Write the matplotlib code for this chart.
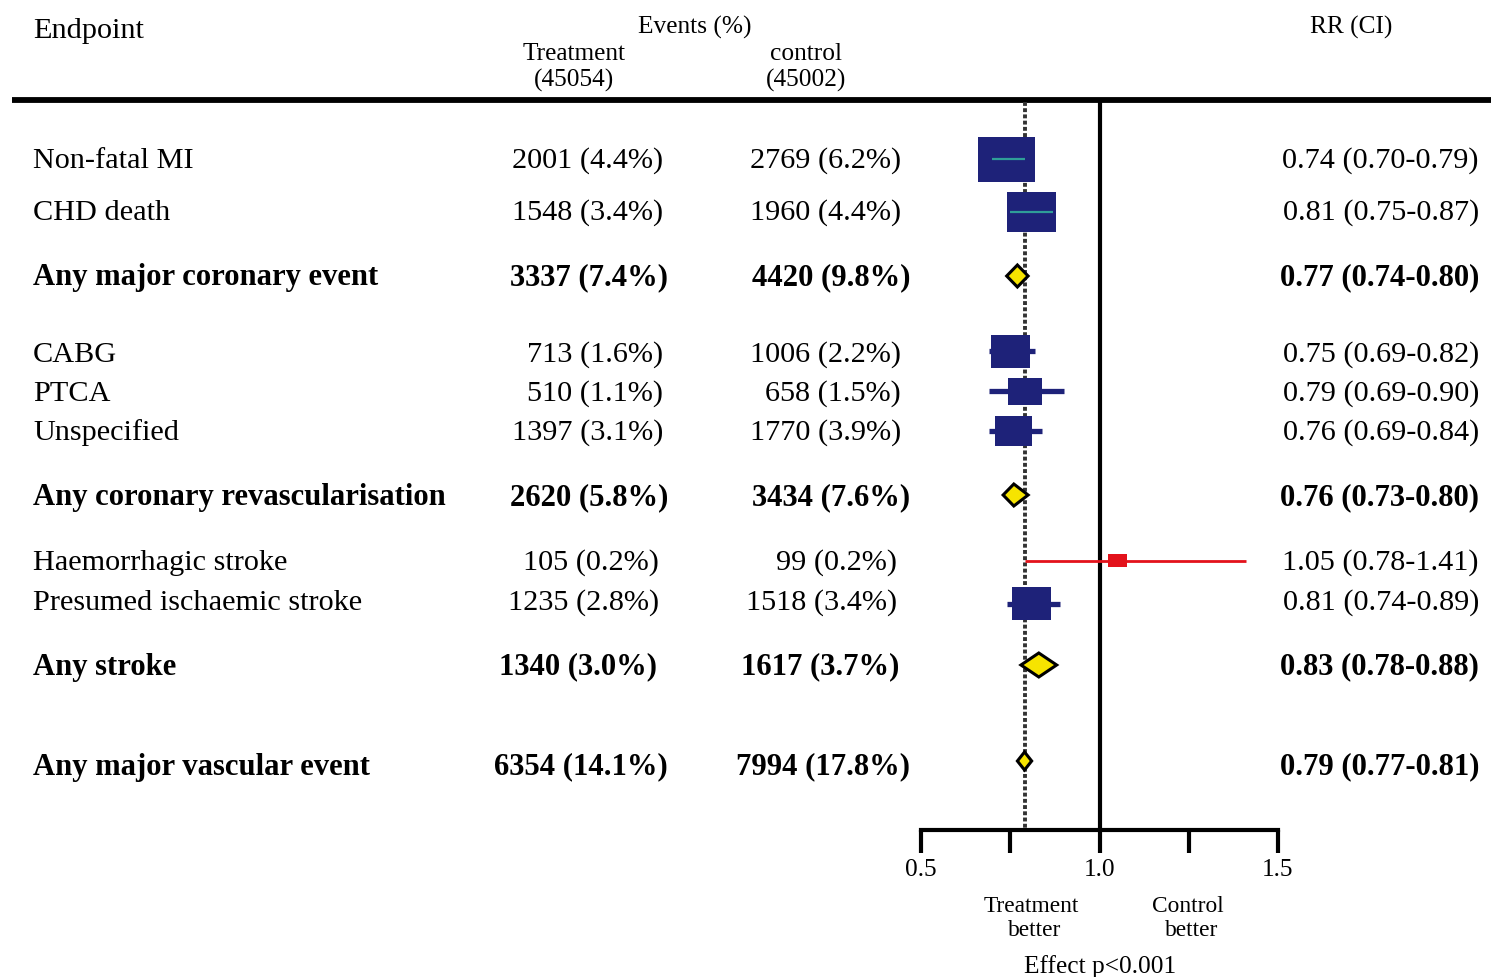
import matplotlib
matplotlib.use("Agg")
import matplotlib.pyplot as plt
from matplotlib.patches import Rectangle, Polygon

# ---------------- data ----------------
endpoints = ["Non-fatal MI", "CHD death", "Any major coronary event",
             "CABG", "PTCA", "Unspecified", "Any coronary revascularisation",
             "Haemorrhagic stroke", "Presumed ischaemic stroke", "Any stroke",
             "Any major vascular event"]
treat_events = [2001, 1548, 3337, 713, 510, 1397, 2620, 105, 1235, 1340, 6354]
treat_pct = [4.4, 3.4, 7.4, 1.6, 1.1, 3.1, 5.8, 0.2, 2.8, 3.0, 14.1]
ctrl_events = [2769, 1960, 4420, 1006, 658, 1770, 3434, 99, 1518, 1617, 7994]
ctrl_pct = [6.2, 4.4, 9.8, 2.2, 1.5, 3.9, 7.6, 0.2, 3.4, 3.7, 17.8]
rr = [0.74, 0.81, 0.77, 0.75, 0.79, 0.76, 0.76, 1.05, 0.81, 0.83, 0.79]
ci_low = [0.70, 0.75, 0.74, 0.69, 0.69, 0.69, 0.73, 0.78, 0.74, 0.78, 0.77]
ci_high = [0.79, 0.87, 0.80, 0.82, 0.90, 0.84, 0.80, 1.41, 0.89, 0.88, 0.81]
is_summary = [False, False, True, False, False, False, True, False, False, True, True]
n_treat = 45054
n_ctrl = 45002
overall_rr = 0.79
x_ticks = [0.5, 0.75, 1.0, 1.25, 1.5]
x_ticklabels = ["0.5", "", "1.0", "", "1.5"]

# ---------------- layout / style ----------------
W, H = 1491, 977
FONT = "Liberation Serif"
BODY = 21.8
BOLD = 22.1
HEAD = 18.3
NAVY = "#1e2279"
TEAL = "#2f9e98"
YELLOW = "#f6e400"
RED = "#e3121b"

row_y = [159, 212, 276, 351, 391, 431, 495, 561, 604, 665, 761]
text_dy = [2, 1, 2, 4, 3, 2, 3, 2, -1, 2, 6]
col_dx = [0, 0, 0, 0, 0, 0, 0, -4, -4, -11, 0]
# box (width px, height px) for individual rows; diamond heights for summaries
box_px = {0: (57, 45), 1: (49, 40), 3: (39, 33), 4: (34, 27), 5: (37, 30),
          7: (19, 13), 8: (39, 33)}
diamond_h = {2: 22, 6: 22, 9: 24, 10: 18}

fig = plt.figure(figsize=(W / 100, H / 100), dpi=100)
bg = fig.add_axes([0, 0, 1, 1])
bg.set_xlim(0, W)
bg.set_ylim(H, 0)
bg.axis("off")

x0, x1 = 921, 1278
ytop, ybot = 100, 830
fx = fig.add_axes([x0 / W, (H - ybot) / H, (x1 - x0) / W, (ybot - ytop) / H])
fx.set_xlim(0.5, 1.5)
fx.set_ylim(ybot, ytop)
fx.patch.set_alpha(0)
for s in ["top", "left", "right"]:
    fx.spines[s].set_visible(False)
fx.spines["bottom"].set_linewidth(3)
fx.set_yticks([])
fx.set_xticks(x_ticks)
fx.set_xticklabels(x_ticklabels, fontfamily=FONT, fontsize=HEAD)
fx.tick_params(axis="x", direction="out", length=16.5, width=3, pad=4.5)
px_per_unit = (x1 - x0) / 1.0

# header
bg.plot([12, W], [100, 100], color="black", lw=4.2, solid_capstyle="butt")
bg.text(33, 31, "Endpoint", fontfamily=FONT, fontsize=BODY, ha="left", va="center")
bg.text(695, 27, "Events (%)", fontfamily=FONT, fontsize=HEAD, ha="center", va="center")
bg.text(574, 54, "Treatment", fontfamily=FONT, fontsize=HEAD, ha="center", va="center")
bg.text(574, 80, f"({n_treat})", fontfamily=FONT, fontsize=HEAD, ha="center", va="center")
bg.text(806, 54, "control", fontfamily=FONT, fontsize=HEAD, ha="center", va="center")
bg.text(806, 80, f"({n_ctrl})", fontfamily=FONT, fontsize=HEAD, ha="center", va="center")
bg.text(1351, 27, "RR (CI)", fontfamily=FONT, fontsize=HEAD, ha="center", va="center")

# reference lines
fx.axvline(1.0, color="black", lw=3, zorder=1)
fx.plot([overall_rr, overall_rr], [ytop + 2, ybot - 2], color="#333333", lw=2.8,
        linestyle=(0, (1.0, 0.6)), zorder=1)

for i, name in enumerate(endpoints):
    y = row_y[i]
    ty = y + text_dy[i]
    bold = is_summary[i]
    weight = "bold" if bold else "normal"
    fs = BOLD if bold else BODY
    bg.text(33, ty, name, fontfamily=FONT, fontsize=fs, fontweight=weight,
            ha="left", va="center")
    tx_t = (668 if bold else 663) + col_dx[i]
    tx_c = (910 if bold else 901) + col_dx[i]
    bg.text(tx_t, ty, f"{treat_events[i]} ({treat_pct[i]:.1f}%)", fontfamily=FONT,
            fontsize=fs, fontweight=weight, ha="right", va="center")
    bg.text(tx_c, ty, f"{ctrl_events[i]} ({ctrl_pct[i]:.1f}%)", fontfamily=FONT,
            fontsize=fs, fontweight=weight, ha="right", va="center")
    bg.text(1479, ty, f"{rr[i]:.2f} ({ci_low[i]:.2f}-{ci_high[i]:.2f})",
            fontfamily=FONT, fontsize=fs, fontweight=weight, ha="right", va="center")

    if bold:
        h = diamond_h[i]
        pts = [(ci_low[i], y), (rr[i], y - h / 2), (ci_high[i], y), (rr[i], y + h / 2)]
        fx.add_patch(Polygon(pts, closed=True, facecolor=YELLOW, edgecolor="black",
                             lw=2.2, joinstyle="miter", zorder=4, clip_on=False))
    else:
        bw, bh = box_px[i]
        w = bw / px_per_unit
        red = rr[i] > 1.0
        col = RED if red else NAVY
        inside = ci_low[i] >= rr[i] - w / 2 - 0.01 and ci_high[i] <= rr[i] + w / 2 + 0.01
        if red:
            fx.plot([max(ci_low[i], overall_rr), ci_high[i]], [y, y], color=col, lw=2.0,
                    zorder=3, clip_on=False, solid_capstyle="butt")
        elif not inside:
            fx.plot([ci_low[i], ci_high[i]], [y, y], color=col, lw=3.8, zorder=3,
                    clip_on=False, solid_capstyle="butt")
        fx.add_patch(Rectangle((rr[i] - w / 2, y - bh / 2), w, bh, facecolor=col,
                               edgecolor="none", zorder=4, clip_on=False))
        if inside:
            fx.plot([ci_low[i], ci_high[i]], [y, y], color=TEAL, lw=1.6, zorder=5,
                    clip_on=False, solid_capstyle="butt")

# bottom annotations
bg.text(1031, 906, "Treatment", fontfamily=FONT, fontsize=16.8, ha="center", va="center")
bg.text(1035, 931, "better", fontfamily=FONT, fontsize=16.8, ha="center", va="center")
bg.text(1188, 906, "Control", fontfamily=FONT, fontsize=16.8, ha="center", va="center")
bg.text(1192, 931, "better", fontfamily=FONT, fontsize=16.8, ha="center", va="center")
bg.text(1100, 967, "Effect p<0.001", fontfamily=FONT, fontsize=HEAD, ha="center", va="center")

fig.savefig("out.png", dpi=100)
